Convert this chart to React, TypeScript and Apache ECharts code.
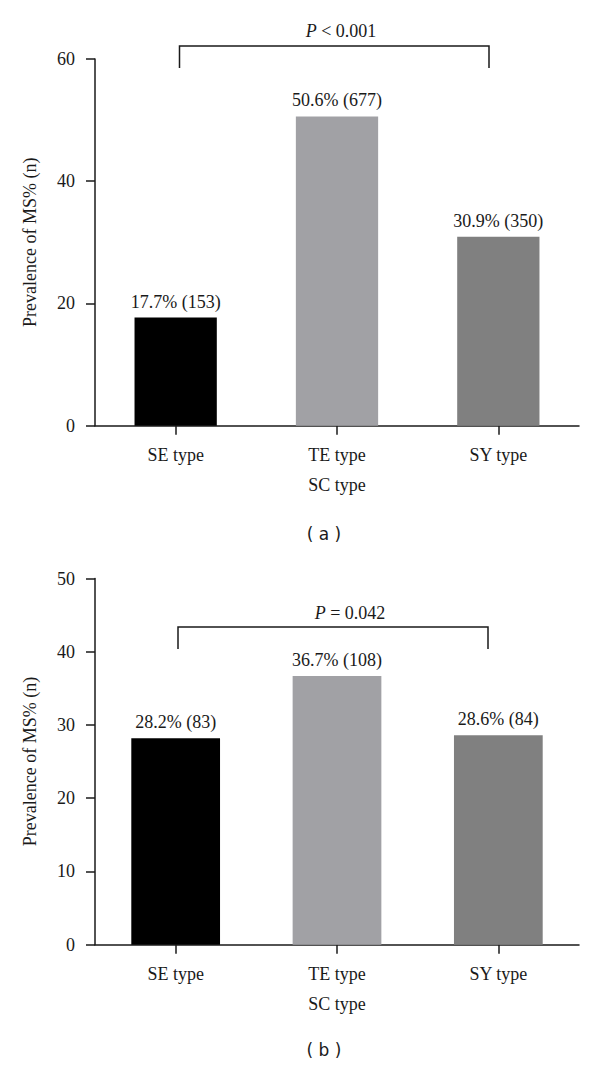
import React, { useEffect, useRef } from "react";
import * as echarts from "echarts";

const categories = ["SE type", "TE type", "SY type"];
const valuesA = [17.7, 50.6, 30.9];
const countsA = [153, 677, 350];
const valuesB = [28.2, 36.7, 28.6];
const countsB = [83, 108, 84];
const barColors = ["#000000", "#a1a1a5", "#808080"];
const pTextA = "< 0.001";
const pTextB = "= 0.042";
const yTicksA = { min: 0, max: 60, interval: 20 };
const yTicksB = { min: 0, max: 50, interval: 10 };

const SERIF = "'Liberation Serif', 'DejaVu Serif', serif";
const SANS = "'DejaVu Sans', 'Liberation Sans', sans-serif";
const INK = "#1a1a1a";

function yAxis(gridIndex: number, t: { min: number; max: number; interval: number }) {
  return {
    type: "value",
    gridIndex,
    min: t.min,
    max: t.max,
    interval: t.interval,
    name: "Prevalence of MS% (n)",
    nameLocation: "middle",
    nameGap: 56,
    nameTextStyle: { fontFamily: SERIF, fontSize: 18, color: INK },
    axisLine: { show: true, lineStyle: { color: INK, width: 1.5 } },
    axisTick: { show: true, length: 9, lineStyle: { color: INK, width: 1.5 } },
    axisLabel: { margin: 20, fontFamily: SERIF, fontSize: 18, color: INK },
    splitLine: { show: false },
  };
}

function xAxis(gridIndex: number) {
  return {
    type: "category",
    gridIndex,
    data: categories,
    name: "SC type",
    nameLocation: "middle",
    nameGap: 50,
    nameTextStyle: { fontFamily: SERIF, fontSize: 18, color: INK },
    axisLine: { show: true, lineStyle: { color: INK, width: 1.5 } },
    axisTick: { show: true, alignWithLabel: true, length: 9, lineStyle: { color: INK, width: 1.5 } },
    axisLabel: { margin: 20, fontFamily: SERIF, fontSize: 18, color: INK },
  };
}

function barSeries(idx: number, values: number[], counts: number[], barWidth: string) {
  return {
    type: "bar",
    xAxisIndex: idx,
    yAxisIndex: idx,
    barWidth,
    data: values.map((v, i) => ({ value: v, itemStyle: { color: barColors[i] } })),
    label: {
      show: true,
      position: "top",
      distance: 7,
      fontFamily: SERIF,
      fontSize: 18,
      color: INK,
      formatter: (p: any) => `${values[p.dataIndex].toFixed(1)}% (${counts[p.dataIndex]})`,
    },
  };
}

function bracket(x1: number, x2: number, yTop: number, yEnd: number) {
  return {
    type: "polyline",
    shape: { points: [[x1, yEnd], [x1, yTop], [x2, yTop], [x2, yEnd]] },
    style: { stroke: INK, lineWidth: 1.5, fill: "none" },
  };
}

function pLabel(x: number, y: number, rest: string) {
  return {
    type: "text",
    x,
    y,
    style: {
      text: `{i|P} ${rest}`,
      align: "center",
      verticalAlign: "middle",
      fontFamily: SERIF,
      fontSize: 18,
      fill: INK,
      rich: { i: { fontStyle: "italic", fontFamily: SERIF, fontSize: 18, color: INK } },
    },
  };
}

function panelLabel(x: number, y: number, t: string) {
  return {
    type: "text",
    x,
    y,
    style: { text: t, align: "center", verticalAlign: "middle", fontFamily: SANS, fontSize: 17, fill: INK },
  };
}

export default function App() {
  const ref = useRef<HTMLDivElement>(null);
  useEffect(() => {
    if (!ref.current) return;
    const chart = echarts.init(ref.current, null, { renderer: "svg" });
    chart.setOption({
      animation: false,
      backgroundColor: "#ffffff",
      grid: [
        { left: 95, right: 21, top: 59, height: 366.7 },
        { left: 95, right: 21, top: 578.5, height: 366.2 },
      ],
      xAxis: [xAxis(0), xAxis(1)],
      yAxis: [yAxis(0, yTicksA), yAxis(1, yTicksB)],
      series: [barSeries(0, valuesA, countsA, "51%"), barSeries(1, valuesB, countsB, "55%")],
      graphic: [
        bracket(179.5, 489, 46, 68),
        pLabel(341, 31, pTextA),
        bracket(178, 488, 627, 649),
        pLabel(350, 613, pTextB),
        panelLabel(324, 534, "( a )"),
        panelLabel(324, 1050, "( b )"),
      ],
    });
    return () => chart.dispose();
  }, []);
  return (
    <div
      ref={ref}
      style={{ position: "fixed", left: 0, top: 0, width: 600, height: 1066, background: "#fff" }}
    />
  );
}
